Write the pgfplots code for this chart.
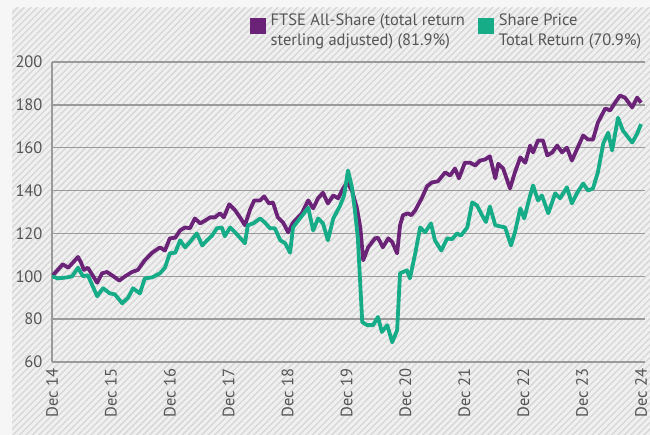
\documentclass[border=0pt]{standalone}
\usepackage{pgfplots}
\pgfplotsset{compat=1.18}
\usepackage{fontspec}
\setmainfont{PT Sans}
\usetikzlibrary{patterns.meta}
\definecolor{ftse}{HTML}{6B2378}
\definecolor{spt}{HTML}{16AC87}
\definecolor{txt}{HTML}{555555}
\definecolor{gridc}{HTML}{9A9A9A}
\definecolor{bgc}{HTML}{F0F0F0}
\definecolor{outer}{HTML}{F6F6F6}
\definecolor{hatch}{HTML}{D6D6D6}
\begin{document}
\begin{tikzpicture}
\fill[outer] (0,0) rectangle (650bp,435bp);
\fill[bgc] (12bp,0) rectangle (650bp,427bp);
\fill[pattern={Lines[angle=45,distance=4.6bp,line width=1.3bp]}, pattern color=hatch] (12bp,0) rectangle (650bp,427bp);
\useasboundingbox (0,0) rectangle (650bp,435bp);
\begin{axis}[
  at={(52bp,73bp)}, anchor=south west,
  width=593bp, height=300bp, scale only axis,
  xmin=0, xmax=120.8, ymin=60, ymax=200,
  axis x line*=bottom, axis y line*=left,
  axis line style={gridc, line width=1.3bp},
  ytick={60,80,...,200},
  ymajorgrids, major grid style={gridc, line width=1.3bp},
  xtick={0,12,...,120},
  xticklabels={Dec 14,Dec 15,Dec 16,Dec 17,Dec 18,Dec 19,Dec 20,Dec 21,Dec 22,Dec 23,Dec 24},
  major tick length=0pt,
  tick label style={text=txt, font=\fontsize{16.5bp}{19bp}\selectfont},
  /pgf/number format/assume math mode=true,
  x tick label style={rotate=90, anchor=east, xshift=-3bp},
  yticklabel style={xshift=-6bp},
  legend columns=2,
  legend style={at={(1.0,1.17)}, anchor=north east, draw=none, fill=none,
    font=\fontsize{16.5bp}{20bp}\selectfont, text=txt,
    nodes={align=left, inner sep=0.5bp},
    /tikz/every odd column/.append style={column sep=4bp},
    /tikz/every even column/.append style={column sep=13bp}},
  legend cell align=left,
  legend image code/.code={\fill[#1, draw=none] (0bp,-3.5bp) rectangle (16bp,12.5bp);},
]
\addplot[ftse, line width=3.8bp, line join=round] coordinates {
(0,100) (2.2,105.6) (3.3,104) (5.3,109) (5.9,106.5) (6.5,103) (7.3,104) (9.2,97) (10.2,101.4)
(11.2,102) (12.2,100.5) (13.7,98) (14.9,100) (16.3,102) (17.5,103) (18.9,107.5) (20.4,111)
(22.0,113.5) (23.0,112) (24.0,117.7) (25.1,118) (26.1,121.4) (27.1,122.8) (28.1,122.4)
(29.1,127) (30.2,124.7) (31.2,126) (32.2,127.5) (33.2,127.5) (34.2,129.4) (35.0,127.5)
(36.1,133.6) (37.3,130.8) (38.3,127.5) (39.3,123.8) (40.3,130.8) (41.2,135.4) (42.4,135.4)
(43.2,137.3) (44.2,134) (45.0,134.5) (46.0,127.5) (47.1,125) (48.1,120.5) (49.1,125)
(50.9,129.4) (52.2,135.4) (53.2,131.7) (54.2,136.4) (55.2,139) (56.2,134) (57.3,137.7)
(58.3,136.4) (59.3,141) (60.1,143.8) (61.1,140) (62.1,132) (62.8,122.8) (63.4,107.5)
(64.4,113.5) (65.8,117.7) (66.4,118) (67.4,113.5) (68.5,117.7) (69.3,116) (70.3,110.7)
(70.9,123.8) (71.5,128.5) (72.5,129.4) (73.2,128.5) (74.0,130.8) (75.4,136.8) (76.4,142)
(77.4,143.8) (78.6,144.3) (80.1,148.5) (81.1,147) (82.1,150.3) (82.9,145.7) (84.1,153)
(85.2,153) (86.2,151.7) (87.2,154) (88.2,154.5) (89.2,156) (90.3,145.7) (90.9,152.5)
(91.9,150.3) (93.3,141) (94.3,148.5) (95.4,155.5) (96.4,153) (97.4,161) (98.0,157.8)
(99.0,163.4) (100.0,163.4) (100.9,156.4) (101.9,157.8) (102.9,161) (103.9,157.8)
(104.9,160) (105.9,154) (107.0,159.6) (108.2,165.7) (109.2,163.8) (110.2,163.8)
(111.2,171.7) (112.7,178.3) (113.7,177.4) (114.7,181) (115.7,184.3) (116.7,183.4)
(118.2,178.8) (119.2,183.4) (120,181)
};
\addlegendentry{FTSE All-Share (total return\\sterling adjusted) (81.9\%)}
\addplot[spt, line width=3.8bp, line join=round] coordinates {
(0,100) (1.2,99) (3.1,99.5) (4.1,100) (5.3,104) (6.3,100) (7.3,100.5) (9.2,90.7)
(10.4,94.4) (11.8,92) (12.8,91.6) (14.3,87.4) (15.5,90) (16.5,94.4) (17.9,92) (18.9,99)
(20.4,99.5) (22.0,101.4) (23.0,104) (24.0,110.7) (25.1,111) (26.1,116.8) (27.1,113.5)
(28.1,116) (29.5,120) (30.6,114.4) (31.6,116.8) (32.6,119) (33.6,122.4) (34.6,122.8)
(35.2,118.7) (36.3,122.8) (37.3,120.5) (39.3,115.4) (39.9,123.8) (41.0,124.7) (42.4,127)
(43.4,125) (44.4,122.4) (45.4,122.4) (46.5,116.8) (47.5,115.4) (48.5,111) (49.1,122.8)
(50.5,127) (52.2,132) (53.2,121.4) (54.2,127) (55.2,124.7) (56.2,116.8) (57.3,127)
(58.7,133) (59.5,137.7) (60.3,149.4) (61.1,141.5) (61.7,130.8) (62.3,118) (63.2,78.6)
(64.2,77.2) (65.4,77.2) (66.4,81) (67.2,74) (68.3,77.2) (69.3,69.2) (70.3,74.8)
(70.9,101.4) (72.3,102.8) (72.9,99) (74.0,110.7) (75.0,122.8) (76.0,120.5) (77.2,124.7)
(78.0,116.8) (79.3,112) (80.5,117.7) (81.5,117.3) (82.5,120) (83.3,119) (84.6,122.8)
(85.6,134.5) (86.6,133) (87.6,128.5) (88.4,125.3) (89.2,132.6) (90.3,123.8) (92.3,122.8)
(93.5,114.4) (94.3,120.5) (95.4,131.7) (96.2,127) (97.4,137.7) (98.0,142.4) (99.0,135.4)
(99.8,137.7) (101.1,129.4) (102.5,138.7) (103.5,136.4) (104.9,141.5) (105.9,134)
(107.0,139) (108.2,143.3) (109.2,140) (110.2,141) (111.2,148.5) (112.3,162) (113.3,167)
(114.1,158.7) (115.3,174) (116.3,168) (118.2,162.4) (119.2,166.6) (120,171)
};
\addlegendentry{Share Price\\Total Return (70.9\%)}
\end{axis}
\end{tikzpicture}
\end{document}
